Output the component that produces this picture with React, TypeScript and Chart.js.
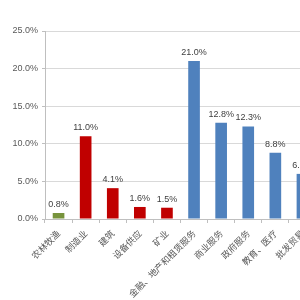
import React, { useEffect, useRef } from "react";
import { Chart, registerables } from "chart.js";

Chart.register(...registerables);

const categories = ["农林牧渔", "制造业", "建筑", "设备供应", "矿业", "金融、地产和租赁服务", "商业服务", "政府服务", "教育、医疗", "批发贸易"];
const values = [0.8, 11.0, 4.1, 1.6, 1.5, 21.0, 12.8, 12.3, 8.8, 6.0];
const barColors = ["#77933C", "#C00000", "#C00000", "#C00000", "#C00000", "#4F81BD", "#4F81BD", "#4F81BD", "#4F81BD", "#4F81BD"];
const yTicks = [0, 5, 10, 15, 20, 25];

const valueLabels = {
  id: "valueLabels",
  afterDatasetsDraw(chart: any) {
    const ctx = chart.ctx;
    const meta = chart.getDatasetMeta(0);
    ctx.save();
    ctx.font = "9px 'Liberation Sans'";
    ctx.fillStyle = "#404040";
    ctx.textAlign = "center";
    ctx.textBaseline = "bottom";
    meta.data.forEach((el: any, i: number) => {
      ctx.fillText(values[i].toFixed(1) + "%", el.x, el.y - 4);
    });
    ctx.restore();
  },
};

export default function App() {
  const ref = useRef<HTMLCanvasElement>(null);
  useEffect(() => {
    const chart = new Chart(ref.current!, {
      type: "bar",
      data: {
        labels: categories,
        datasets: [
          {
            data: values,
            backgroundColor: barColors,
            borderColor: barColors,
            borderWidth: 0,
            barPercentage: 0.43,
            categoryPercentage: 1,
          },
        ],
      },
      options: {
        responsive: false,
        animation: false,
        layout: { padding: { top: 31, right: 14, left: 0, bottom: 0 } },
        plugins: { legend: { display: false }, tooltip: { enabled: false } },
        scales: {
          x: {
            afterFit: (s: any) => { s.height = 81; },
            grid: { offset: true, drawOnChartArea: false, drawTicks: true, tickLength: 4, color: "#BFBFBF" },
            border: { color: "#BFBFBF" },
            ticks: {
              autoSkip: false,
              maxRotation: 45,
              minRotation: 45,
              color: "#595959",
              font: { family: "'Noto Sans CJK SC'", size: 9 },
              padding: 5,
            },
          },
          y: {
            min: 0,
            max: 25,
            afterFit: (s: any) => { s.width = 45; },
            afterBuildTicks: (s: any) => { s.ticks = yTicks.map((v) => ({ value: v })); },
            grid: { color: "#D9D9D9", drawTicks: true, tickLength: 3, tickColor: "#BFBFBF" },
            border: { color: "#BFBFBF" },
            ticks: {
              color: "#595959",
              font: { family: "'Liberation Sans'", size: 9 },
              padding: 4,
              callback: (v: any) => Number(v).toFixed(1) + "%",
            },
          },
        },
      },
      plugins: [valueLabels],
    });
    return () => chart.destroy();
  }, []);
  return (
    <div style={{ position: "fixed", left: 0, top: 0, width: 300, height: 300, overflow: "hidden", background: "#fff" }}>
      <canvas ref={ref} width={330} height={300} style={{ width: 330, height: 300, display: "block" }} />
    </div>
  );
}
